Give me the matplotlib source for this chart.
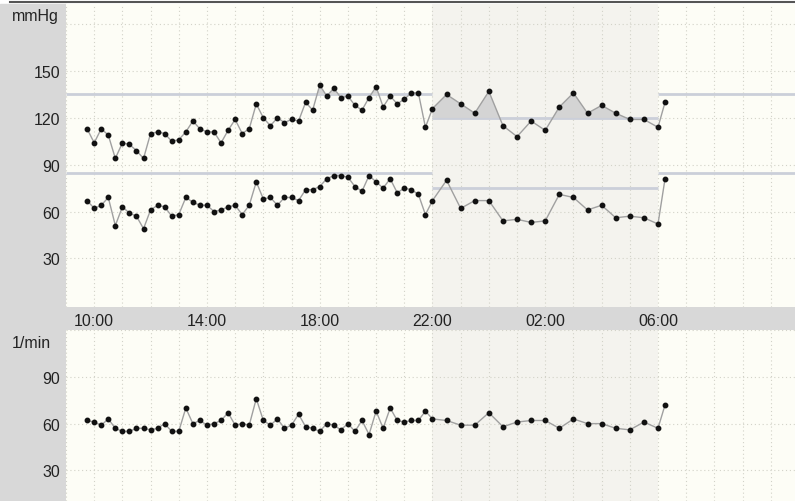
import numpy as np
import matplotlib
matplotlib.use('Agg')
import matplotlib.pyplot as plt
from matplotlib.patches import Rectangle
from matplotlib.lines import Line2D

plt.rcParams['font.family'] = ['Liberation Sans', 'DejaVu Sans']

# measurement times (15 min by day, 30 min at night)
times = ['09:45', '10:00', '10:15', '10:30', '10:45', '11:00', '11:15', '11:30', '11:45',
         '12:00', '12:15', '12:30', '12:45', '13:00', '13:15', '13:30', '13:45',
         '14:00', '14:15', '14:30', '14:45', '15:00', '15:15', '15:30', '15:45',
         '16:00', '16:15', '16:30', '16:45', '17:00', '17:15', '17:30', '17:45',
         '18:00', '18:15', '18:30', '18:45', '19:00', '19:15', '19:30', '19:45',
         '20:00', '20:15', '20:30', '20:45', '21:00', '21:15', '21:30', '21:45',
         '22:00', '22:30', '23:00', '23:30', '00:00', '00:30', '01:00', '01:30',
         '02:00', '02:30', '03:00', '03:30', '04:00', '04:30', '05:00', '05:30',
         '06:00', '06:15']

systolic = [113, 104, 113, 109, 94, 104, 103, 99, 94, 110,
            111, 110, 105, 106, 111, 118, 113, 111, 111, 104,
            112, 119, 110, 113, 129, 120, 115, 120, 117, 119,
            118, 130, 125, 141, 134, 139, 133, 134, 128, 125,
            133, 140, 127, 134, 129, 132, 136, 136, 114,
            126, 135, 129, 123, 137, 115, 108, 118, 112, 127,
            136, 123, 128, 123, 119, 119, 114, 130]

diastolic = [67, 62, 64, 69, 51, 63, 59, 57, 49, 61,
             64, 63, 57, 58, 69, 66, 64, 64, 60, 61,
             63, 64, 58, 64, 79, 68, 69, 64, 69, 69,
             67, 74, 74, 76, 81, 83, 83, 82, 76, 73,
             83, 79, 75, 81, 72, 75, 74, 71, 58,
             67, 80, 62, 67, 67, 54, 55, 53, 54, 71,
             69, 61, 64, 56, 57, 56, 52, 81]

pulse = [62, 61, 59, 63, 57, 55, 55, 57, 57, 56,
         57, 60, 55, 55, 70, 60, 62, 59, 60, 62,
         67, 59, 60, 59, 76, 62, 59, 63, 57, 59,
         66, 58, 57, 55, 60, 59, 56, 60, 55, 62,
         53, 68, 57, 70, 62, 61, 62, 62, 68,
         63, 62, 59, 59, 67, 58, 61, 62, 62, 57,
         63, 60, 60, 57, 56, 61, 57, 72]

# limits day / night
sys_day, sys_night = 135, 120
dia_day, dia_night = 85, 75
night_start, night_end = 22, 30

tick_hours = [10, 14, 18, 22, 26, 30]
tick_labels = ['10:00', '14:00', '18:00', '22:00', '02:00', '06:00']


def to_hours(s):
    h, m = s.split(':')
    v = int(h) + int(m) / 60
    if v < 9:
        v += 24
    return v


t = np.array([to_hours(s) for s in times])
sy = np.array(systolic)
di = np.array(diastolic)
hr = np.array(pulse)

W, H = 795, 502
fig = plt.figure(figsize=(W / 100, H / 100), dpi=100)
fig.patch.set_facecolor('white')

strip = '#d8d8d8'
fig.add_artist(Rectangle((0, 0), 66 / W, 1 - 5 / H, transform=fig.transFigure,
                         color=strip, zorder=-5))
fig.add_artist(Rectangle((0, 1 - 331 / H), 1, 23 / H, transform=fig.transFigure,
                         color=strip, zorder=-5))
fig.add_artist(Line2D([10 / W, 1], [1 - 3 / H, 1 - 3 / H], color='#555555', lw=1.5))

ax1 = fig.add_axes([66 / W, 1 - 308 / H, 1 - 66 / W, 303 / H])
ax2 = fig.add_axes([66 / W, 0, 1 - 66 / W, 171 / H])

bg = '#fdfdf6'
xmin, xmax = 9.0, 34.86
for ax in (ax1, ax2):
    ax.set_facecolor(bg)
    for s in ax.spines.values():
        s.set_visible(False)
    ax.axvspan(night_start, night_end, color='#f4f3ee', zorder=0, lw=0)
    ax.set_xlim(xmin, xmax)
    ax.set_xticks(np.arange(9, 35), minor=True)
    ax.set_xticks(tick_hours)
    ax.grid(which='both', axis='both', color='#d2d2c8', linestyle=(0, (1, 2.5)), lw=0.8)
    ax.tick_params(which='both', length=0, labelsize=11.5, colors='#222222')
    ax.set_axisbelow(True)

ax1.set_xticklabels(tick_labels)
ax1.tick_params(axis='x', pad=4)
ax2.set_xticklabels([])

ax1.set_ylim(-1.2, 193)
ax1.set_yticks([30, 60, 90, 120, 150, 180])
ax1.set_yticklabels(['30', '60', '90', '120', '150', ''])
ax1.tick_params(axis='y', pad=4)

ax2.set_ylim(10.4, 120)
ax2.set_yticks([30, 60, 90, 120])
ax2.set_yticklabels(['30', '60', '90', ''])
ax2.tick_params(axis='y', pad=4)

# threshold lines
lim_col = '#cbcfd9'
for day, night in ((sys_day, sys_night), (dia_day, dia_night)):
    ax1.hlines(day, xmin, night_start, color=lim_col, lw=2, zorder=1)
    ax1.hlines(night, night_start, night_end, color=lim_col, lw=2, zorder=1)
    ax1.hlines(day, night_end, xmax, color=lim_col, lw=2, zorder=1)

# fill above limit
m_day = t < night_start
m_night = (t >= night_start) & (t <= night_end)
ax1.fill_between(t[m_day], sy[m_day], sys_day, where=sy[m_day] > sys_day,
                 interpolate=True, color='#d4d4d4', lw=0, zorder=2)
ax1.fill_between(t[m_night], sy[m_night], sys_night, where=sy[m_night] > sys_night,
                 interpolate=True, color='#d4d4d4', lw=0, zorder=2)

style = dict(color='#a0a0a0', lw=1, marker='o', ms=3.2, mfc='#111111',
             mec='#111111', zorder=3)
ax1.plot(t, sy, **style)
ax1.plot(t, di, **style)
ax2.plot(t, hr, **style)

fig.text(12 / W, 1 - 17 / H, 'mmHg', fontsize=11.5, va='center', ha='left', color='#222222')
fig.text(12 / W, 1 - 344 / H, '1/min', fontsize=11.5, va='center', ha='left', color='#222222')

fig.savefig('out.png', dpi=100)
